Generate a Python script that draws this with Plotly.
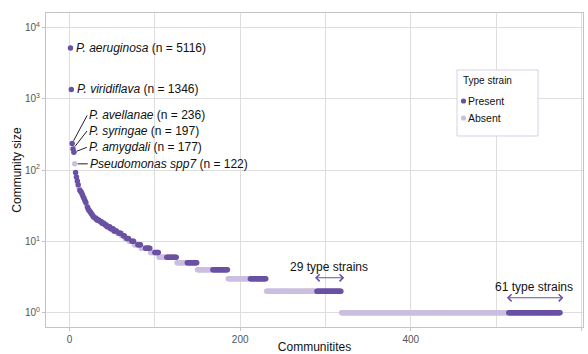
import math
import plotly.graph_objects as go

# ---- data ----
labeled_names = ["P. aeruginosa", "P. viridiflava", "P. avellanae", "P. syringae", "P. amygdali", "Pseudomonas spp7"]
labeled_sizes = [5116, 1346, 236, 197, 177, 122]
labeled_present = [1, 1, 1, 1, 1, 0]

mid_sizes = [92, 80, 70, 62, 56, 52, 50, 48, 45, 42, 40, 37, 35, 32, 30, 28, 27, 26, 25, 24,
             23, 22, 22, 21, 21, 20, 20, 20, 19, 19, 19, 18, 18, 18, 17, 17, 17, 16, 16, 16,
             16, 15, 15, 15, 15, 14, 14, 14, 14]
mid_present = [1, 1, 1, 1, 0, 1, 1, 1, 1, 1, 1, 1, 1, 0, 1, 1, 1, 1, 1, 1,
               1, 1, 0, 1, 1, 1, 1, 1, 0, 1, 1, 1, 1, 1, 0, 1, 1, 1, 1, 0,
               1, 1, 1, 0, 1, 1, 1, 0, 1]

run_sizes = [13, 12, 11, 10, 9, 8, 7, 6, 5, 4, 3, 2, 1]
run_absent = [2, 2, 2, 3, 4, 5, 5, 9, 12, 18, 26, 59, 196]
run_present = [3, 2, 3, 3, 4, 6, 5, 12, 12, 18, 19, 29, 61]

legend_labels = ["Present", "Absent"]

# ---- build community table ----
sizes, present = [], []
sizes += labeled_sizes; present += labeled_present
sizes += mid_sizes; present += mid_present
for s, na, npr in zip(run_sizes, run_absent, run_present):
    sizes += [s] * na; present += [0] * na
    sizes += [s] * npr; present += [1] * npr
idx = list(range(1, len(sizes) + 1))

DARK = "#6a51a3"
LIGHT = "#cbbfe0"
FONT = "Liberation Sans"

px_ = [i for i, p in zip(idx, present) if p == 1]
py_ = [s for s, p in zip(sizes, present) if p == 1]
ax_ = [i for i, p in zip(idx, present) if p == 0]
ay_ = [s for s, p in zip(sizes, present) if p == 0]

fig = go.Figure()
fig.add_trace(go.Scatter(x=ax_, y=ay_, mode="markers", name="Absent",
                         marker=dict(color=LIGHT, size=5.5), showlegend=False))
fig.add_trace(go.Scatter(x=px_, y=py_, mode="markers", name="Present",
                         marker=dict(color=DARK, size=5.5), showlegend=False))

annotations = []
shapes = []
# no-arrow labels
for k in range(2):
    annotations.append(dict(x=idx[k], y=math.log10(sizes[k]), xref="x", yref="y", yanchor="middle",
                            text=f"<i>{labeled_names[k]}</i> (n = {labeled_sizes[k]})",
                            showarrow=False, xanchor="left", xshift=4,
                            font=dict(family=FONT, size=12, color="#111")))
offsets = [(15, -28), (14, -18), (13, -5), (13, 0)]
for j, (ox, oy) in enumerate(offsets):
    k = j + 2
    annotations.append(dict(x=idx[k], y=math.log10(sizes[k]), xref="x", yref="y",
                            text=f"<i>{labeled_names[k]}</i> (n = {labeled_sizes[k]})",
                            showarrow=True, arrowhead=0, arrowwidth=1, arrowcolor="#222",
                            ax=ox, ay=oy, xanchor="left", yanchor="middle", standoff=3,
                            font=dict(family=FONT, size=12, color="#111")))

# type strain brackets
def bracket(size, txt, text_val, arrow_val):
    xs = [i for i, s, p in zip(idx, sizes, present) if s == size and p == 1]
    x0, x1 = xs[0] - 4, xs[-1] + 4
    ya = math.log10(arrow_val)
    annotations.append(dict(x=x1, y=ya, ax=x0, ay=ya, xref="x", yref="y",
                            axref="x", ayref="y", text="", showarrow=True,
                            arrowhead=4, startarrowhead=4, arrowside="end+start",
                            arrowsize=1.25, startarrowsize=1.25,
                            arrowwidth=1.1, arrowcolor=DARK))
    annotations.append(dict(x=(x0 + x1) / 2, y=math.log10(text_val), xref="x", yref="y", text=txt,
                            showarrow=False, font=dict(family=FONT, size=12, color="#111")))

bracket(2, "29 type strains", 4.4, 3.09)
bracket(1, "61 type strains", 2.31, 1.62)

# ---- legend box (drawn manually, ggplot style) ----
shapes.append(dict(type="rect", xref="paper", yref="paper", x0=0.7654, x1=0.9162,
                   y0=0.6083, y1=0.8185, line=dict(color="#d6d0e6", width=1),
                   fillcolor="white", layer="above"))
annotations.append(dict(x=0.7728, y=0.7866, xref="paper", yref="paper", text="Type strain",
                        showarrow=False, xanchor="left", yanchor="middle",
                        font=dict(family=FONT, size=10, color="#111")))
for lab, col, yy in zip(legend_labels, [DARK, LIGHT], [0.7197, 0.6656]):
    shapes.append(dict(type="circle", xref="paper", yref="paper", xsizemode="pixel",
                       ysizemode="pixel", xanchor=0.7775, yanchor=yy,
                       x0=-2.6, x1=2.6, y0=-2.6, y1=2.6, fillcolor=col,
                       line=dict(width=0), layer="above"))
    annotations.append(dict(x=0.7830, y=yy, xref="paper", yref="paper", text=lab,
                            showarrow=False, xanchor="left", yanchor="middle",
                            font=dict(family=FONT, size=10.5, color="#111")))

fig.update_layout(
    width=588, height=354,
    margin=dict(l=46, r=5, t=13, b=27),
    paper_bgcolor="white", plot_bgcolor="white",
    font=dict(family=FONT, size=12, color="#111"),
    annotations=annotations, shapes=shapes,
    showlegend=False,
)
fig.update_xaxes(range=[-27.7, 602], tickvals=[0, 200, 400, 600], automargin=False,
                 showgrid=True, gridcolor="#dedede", gridwidth=1,
                 minor=dict(tickvals=[100, 300, 500], showgrid=True, gridcolor="#dedede", gridwidth=1),
                 zeroline=False, showline=True, linecolor="#c4c4c4", mirror=True,
                 ticks="outside", ticklen=3, tickcolor="#c4c4c4",
                 tickfont=dict(size=10, color="#555"),
                 title=dict(text="Communitites", standoff=5, font=dict(size=12, color="#111")))
fig.update_yaxes(type="log", range=[-0.2, 4.2], tickvals=[1, 10, 100, 1000, 10000], automargin=False,
                 ticktext=["10<sup>0</sup>", "10<sup>1</sup>", "10<sup>2</sup>", "10<sup>3</sup>", "10<sup>4</sup>"],
                 showgrid=True, gridcolor="#dedede", gridwidth=1,
                 zeroline=False, showline=True, linecolor="#c4c4c4", mirror=True,
                 ticks="outside", ticklen=3, tickcolor="#c4c4c4",
                 tickfont=dict(size=10, color="#555"),
                 title=dict(text="Community size", standoff=0, font=dict(size=12, color="#111")))

fig.write_html("out.html")
